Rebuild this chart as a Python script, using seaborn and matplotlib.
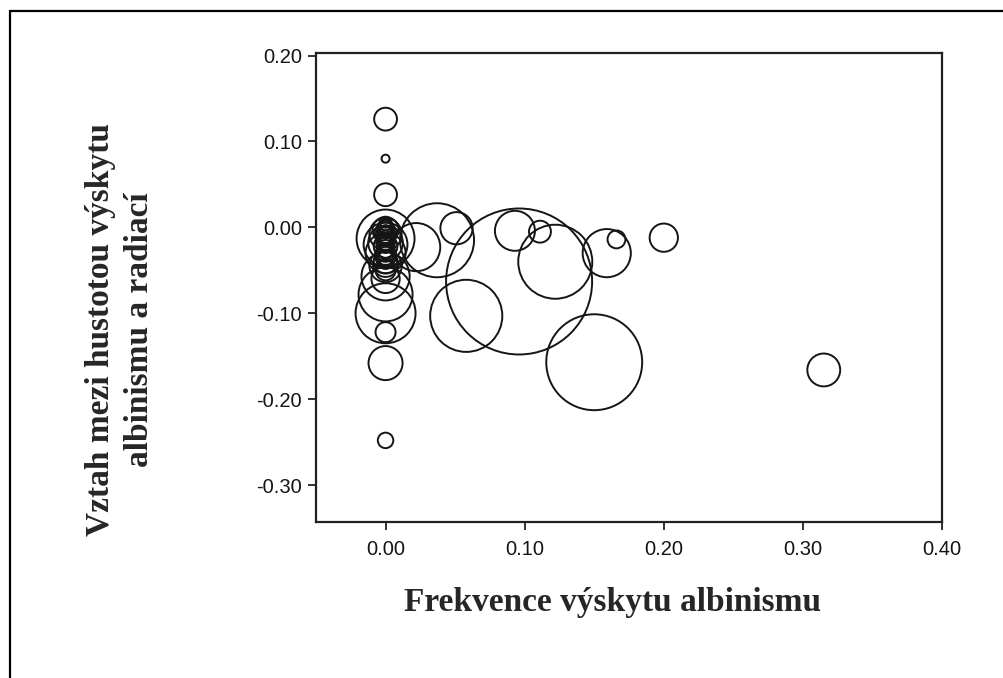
import numpy as np
import pandas as pd
import matplotlib
matplotlib.use("Agg")
import matplotlib.pyplot as plt
from matplotlib.lines import Line2D
import seaborn as sns

# ---- data ----
# frequency of albinism (x), relation between density and radiation (y), weight (bubble area)
freq = [0.000, 0.000, 0.000, 0.022, 0.037, 0.051, 0.096, 0.058, 0.093, 0.111,
        0.122, 0.159, 0.166, 0.200, 0.150, 0.315,
        0.000, 0.000, 0.000, 0.000, 0.000, 0.000, 0.000, 0.000, 0.000, 0.000, 0.000,
        0.000, 0.000, 0.000, 0.000, 0.000, 0.000, 0.000, 0.000, 0.000, 0.000, 0.000,
        0.000, 0.000,
        0.000, 0.000, 0.000, 0.000, 0.000, 0.000, 0.000, 0.000, 0.000, 0.000,
        0.000, 0.000, 0.000, 0.000, 0.000, 0.000, 0.000, 0.000]
rel = [0.126, 0.080, 0.038, -0.023, -0.015, -0.001, -0.063, -0.103, -0.004, -0.005,
       -0.040, -0.030, -0.014, -0.012, -0.157, -0.166,
       -0.122, -0.158, -0.248, -0.100, -0.078, -0.057, -0.013, -0.020, -0.030, -0.045, -0.040,
       0.000, -0.005, -0.010, -0.015, -0.020, -0.025, -0.030, -0.035, -0.003, -0.008, -0.050,
       -0.060, -0.018,
       0.004, -0.002, -0.007, -0.012, -0.017, -0.022, -0.027, -0.033, -0.038, -0.043,
       0.006, 0.001, -0.004, -0.009, -0.014, -0.019, -0.024, -0.029]
weight = [13, 1.6, 13, 58, 137, 26, 533, 130, 40, 12,
          137, 58, 8, 20, 230, 27,
          10, 29, 6, 90, 73, 58, 84, 48, 40, 26, 14,
          6, 4, 10, 3, 5, 8, 4, 6, 17, 26, 10,
          20, 30,
          4, 7, 12, 5, 9, 14, 6, 11, 8, 16,
          3, 5, 2.5, 7, 3.5, 6, 2.5, 9]

xticks = [0.00, 0.10, 0.20, 0.30, 0.40]
yticks = [0.20, 0.10, 0.00, -0.10, -0.20, -0.30]
xlabel = "Frekvence výskytu albinismu"
ylabel = "Vztah mezi hustotou výskytu\nalbinismu a radiací"

df = pd.DataFrame({"freq": freq, "rel": rel, "weight": weight})

# ---- figure ----
sns.set_style("white")
plt.rcParams["font.family"] = ["Liberation Sans", "DejaVu Sans"]

W, H = 1004, 678
fig = plt.figure(figsize=(W / 100, H / 100), dpi=100)
ax = fig.add_axes([316 / W, 1 - 522 / H, (942 - 316) / W, (522 - 53) / H])

# marker area in pt^2 : radius px -> (1.44 r)^2 ; weight ~ r^2/10
wmax = max(weight)
smax = 2.0736 * 10 * wmax
sns.scatterplot(data=df, x="freq", y="rel", size="weight", sizes=(0, smax),
                size_norm=(0, wmax), legend=False, ax=ax, marker="o",
                linewidth=1.4, zorder=3)
pts = ax.collections[0]
pts.set_facecolor("none")
pts.set_edgecolor("#151515")

ax.set_xlim(-0.05, 0.40)
ax.set_ylim(-0.343, 0.203)
ax.set_xticks(xticks)
ax.set_yticks(yticks)
ax.set_xticklabels([f"{v:.2f}" for v in xticks])
ax.set_yticklabels([f"{v:.2f}" for v in yticks])
ax.tick_params(axis="both", direction="out", length=6, width=1.3, color="#222222",
               labelsize=14.5, left=True, bottom=True, labelcolor="#151515")
ax.tick_params(axis="x", pad=7)
ax.tick_params(axis="y", pad=4)
for s in ax.spines.values():
    s.set_linewidth(1.6)
    s.set_color("#222222")
    s.set_visible(True)

ax.set_xlabel(xlabel, fontsize=24, fontweight="bold",
              family=["Liberation Serif", "DejaVu Serif"])
ax.xaxis.set_label_coords((613 - 316) / 626, (522 - 602) / 469)
ax.xaxis.label.set_verticalalignment("center")

ax.set_ylabel(ylabel, fontsize=24, fontweight="bold",
              family=["Liberation Serif", "DejaVu Serif"], linespacing=1.37)
ax.yaxis.set_label_coords((120 - 316) / 626, (522 - 330) / 469)
ax.yaxis.label.set_verticalalignment("center")

# outer frame
fig.add_artist(Line2D([10 / W, 1.0], [1 - 11 / H, 1 - 11 / H], transform=fig.transFigure,
                      color="black", lw=1.6))
fig.add_artist(Line2D([10 / W, 10 / W], [0.0, 1 - 11 / H], transform=fig.transFigure,
                      color="black", lw=1.6))

fig.savefig("out.png", dpi=100)
